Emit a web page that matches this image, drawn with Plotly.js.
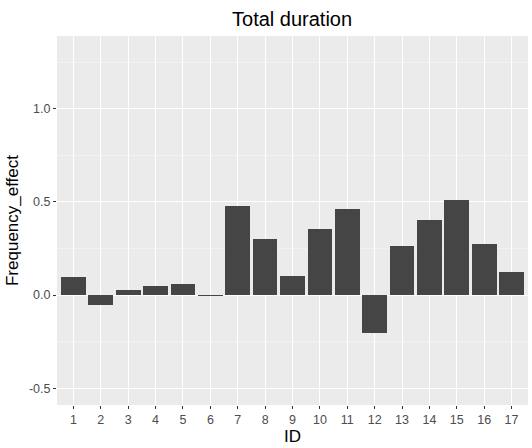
<!DOCTYPE html>
<html>
<head>
<meta charset="utf-8">
<script src="https://cdn.plot.ly/plotly-3.0.1.min.js"></script>
<style>
  html, body { margin: 0; padding: 0; background: #ffffff; }
  #chart { width: 532px; height: 448px; }
</style>
</head>
<body>
<div id="chart"></div>
<script>
// Frequency effect per participant ID
const ids = [1, 2, 3, 4, 5, 6, 7, 8, 9, 10, 11, 12, 13, 14, 15, 16, 17];
const frequencyEffect = [0.098, -0.054, 0.029, 0.048, 0.057, -0.006, 0.477, 0.303, 0.104,
                         0.357, 0.464, -0.206, 0.265, 0.403, 0.509, 0.274, 0.122];
const yTickVals = [-0.5, 0, 0.5, 1.0];
const yTickText = ['-0.5', '0.0', '0.5', '1.0'];

const trace = {
  type: 'bar',
  x: ids,
  y: frequencyEffect,
  width: 0.9,
  marker: { color: '#454545', line: { width: 0 } },
  hoverinfo: 'x+y'
};

const layout = {
  width: 532,
  height: 448,
  margin: { l: 57, r: 4, t: 36, b: 43 },
  paper_bgcolor: '#ffffff',
  plot_bgcolor: '#ebebeb',
  font: { family: 'Liberation Sans, Arial, sans-serif', color: '#000000' },
  showlegend: false,
  title: {
    text: 'Total duration',
    font: { size: 20, color: '#000000' },
    x: 0.549, xanchor: 'center',
    y: 0.958, yanchor: 'middle'
  },
  xaxis: {
    title: { text: 'ID', font: { size: 17, color: '#000000' }, standoff: 3 },
    range: [0.4, 17.6],
    tickmode: 'array',
    tickvals: ids,
    ticktext: ids.map(String),
    tickfont: { size: 12.5, color: '#4d4d4d' },
    ticks: 'outside', ticklen: 3, tickwidth: 1, tickcolor: '#333333',
    showgrid: true, gridcolor: '#ffffff', gridwidth: 1,
    zeroline: false, showline: false, fixedrange: true
  },
  yaxis: {
    title: { text: 'Frequency_effect', font: { size: 17, color: '#000000' }, standoff: 6 },
    range: [-0.59, 1.39],
    tickmode: 'array',
    tickvals: yTickVals,
    ticktext: yTickText,
    tickfont: { size: 12.5, color: '#4d4d4d' },
    ticks: 'outside', ticklen: 3, tickwidth: 1, tickcolor: '#333333',
    showgrid: true, gridcolor: '#ffffff', gridwidth: 1,
    minor: { tickmode: 'linear', tick0: 0, dtick: 0.25, showgrid: true, gridcolor: '#f5f5f5', gridwidth: 0.6, ticks: '' },
    zeroline: false, showline: false, fixedrange: true
  },
  bargap: 0
};

Plotly.newPlot('chart', [trace], layout, { displayModeBar: false, staticPlot: true });
</script>
</body>
</html>
